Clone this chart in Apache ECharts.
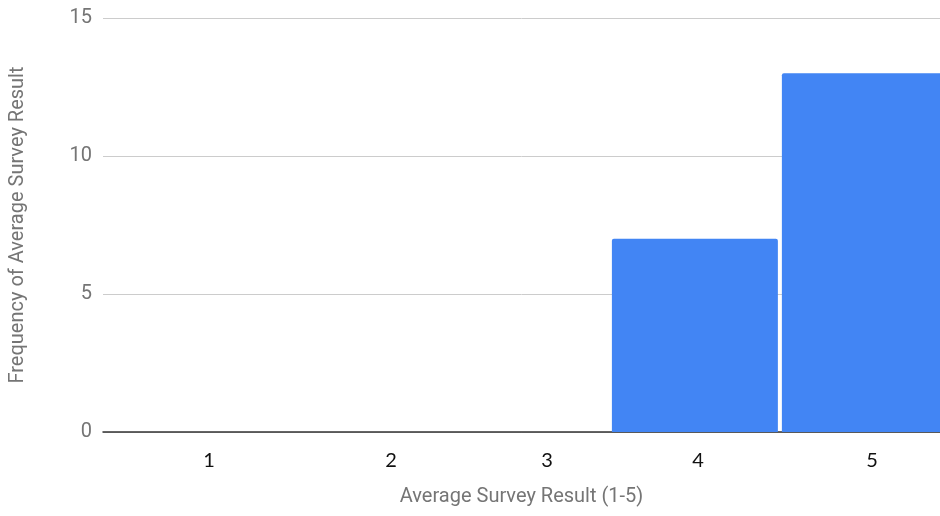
<!DOCTYPE html>
<html>
<head>
<meta charset="utf-8">
<script src="https://cdn.jsdelivr.net/npm/echarts@6/dist/echarts.min.js"></script>
<style>html,body{margin:0;padding:0;background:#fff}#c{width:940px;height:516px}</style>
</head>
<body>
<div id="c"></div>
<script>
// Histogram bins: [start, end, frequency]
const binStarts = [3.5, 4.5];
const binEnds = [4.5, 5.5];
const frequencies = [7, 13];
// X tick labels and where the source chart places them
const tickLabels = ['1', '2', '3', '4', '5'];
const tickPositions = [1.142, 2.212, 3.13, 4.018, 5.042];
const yTicks = [0, 5, 10, 15];

const chart = echarts.init(document.getElementById('c'));
const data = binStarts.map((s, i) => [s, binEnds[i], frequencies[i]]);

chart.setOption({
  animation: false,
  grid: { left: 103, right: 0, top: 18, bottom: 84 },
  xAxis: {
    type: 'value', min: 0.518, max: 5.442,
    name: 'Average Survey Result (1-5)', nameLocation: 'middle', nameGap: 55,
    nameTextStyle: { color: '#757575', fontFamily: 'Roboto', fontSize: 20 },
    axisLine: { show: true, onZero: true, lineStyle: { color: '#333', width: 1.5 } },
    axisTick: { show: false },
    splitLine: { show: false },
    axisLabel: {
      customValues: tickPositions,
      margin: 19,
      color: '#111', fontFamily: 'Lato', fontSize: 20,
      formatter: function (v) {
        let best = 0, d = Infinity;
        tickPositions.forEach((p, i) => { if (Math.abs(p - v) < d) { d = Math.abs(p - v); best = i; } });
        return tickLabels[best];
      }
    }
  },
  yAxis: {
    type: 'value', min: 0, max: 15, interval: 5,
    name: 'Frequency of Average Survey Result', nameLocation: 'middle', nameGap: 75,
    nameTextStyle: { color: '#757575', fontFamily: 'Roboto', fontSize: 20 },
    axisLine: { show: false }, axisTick: { show: false },
    axisLabel: { color: '#757575', fontFamily: 'Roboto', fontSize: 20, margin: 11 },
    splitLine: { lineStyle: { color: '#ccc', width: 1 } }
  },
  series: [{
    type: 'custom',
    clip: true,
    data: data,
    encode: { x: [0, 1], y: 2 },
    renderItem: function (params, api) {
      const p0 = api.coord([api.value(0), api.value(2)]);
      const p1 = api.coord([api.value(1), 0]);
      const x0 = p0[0] + 2, x1 = p1[0] - 2;
      return {
        type: 'rect',
        shape: { x: x0, y: p0[1], width: x1 - x0, height: p1[1] - p0[1], r: [2, 2, 0, 0] },
        style: { fill: '#4285f4' }
      };
    }
  }]
});
</script>
</body>
</html>
